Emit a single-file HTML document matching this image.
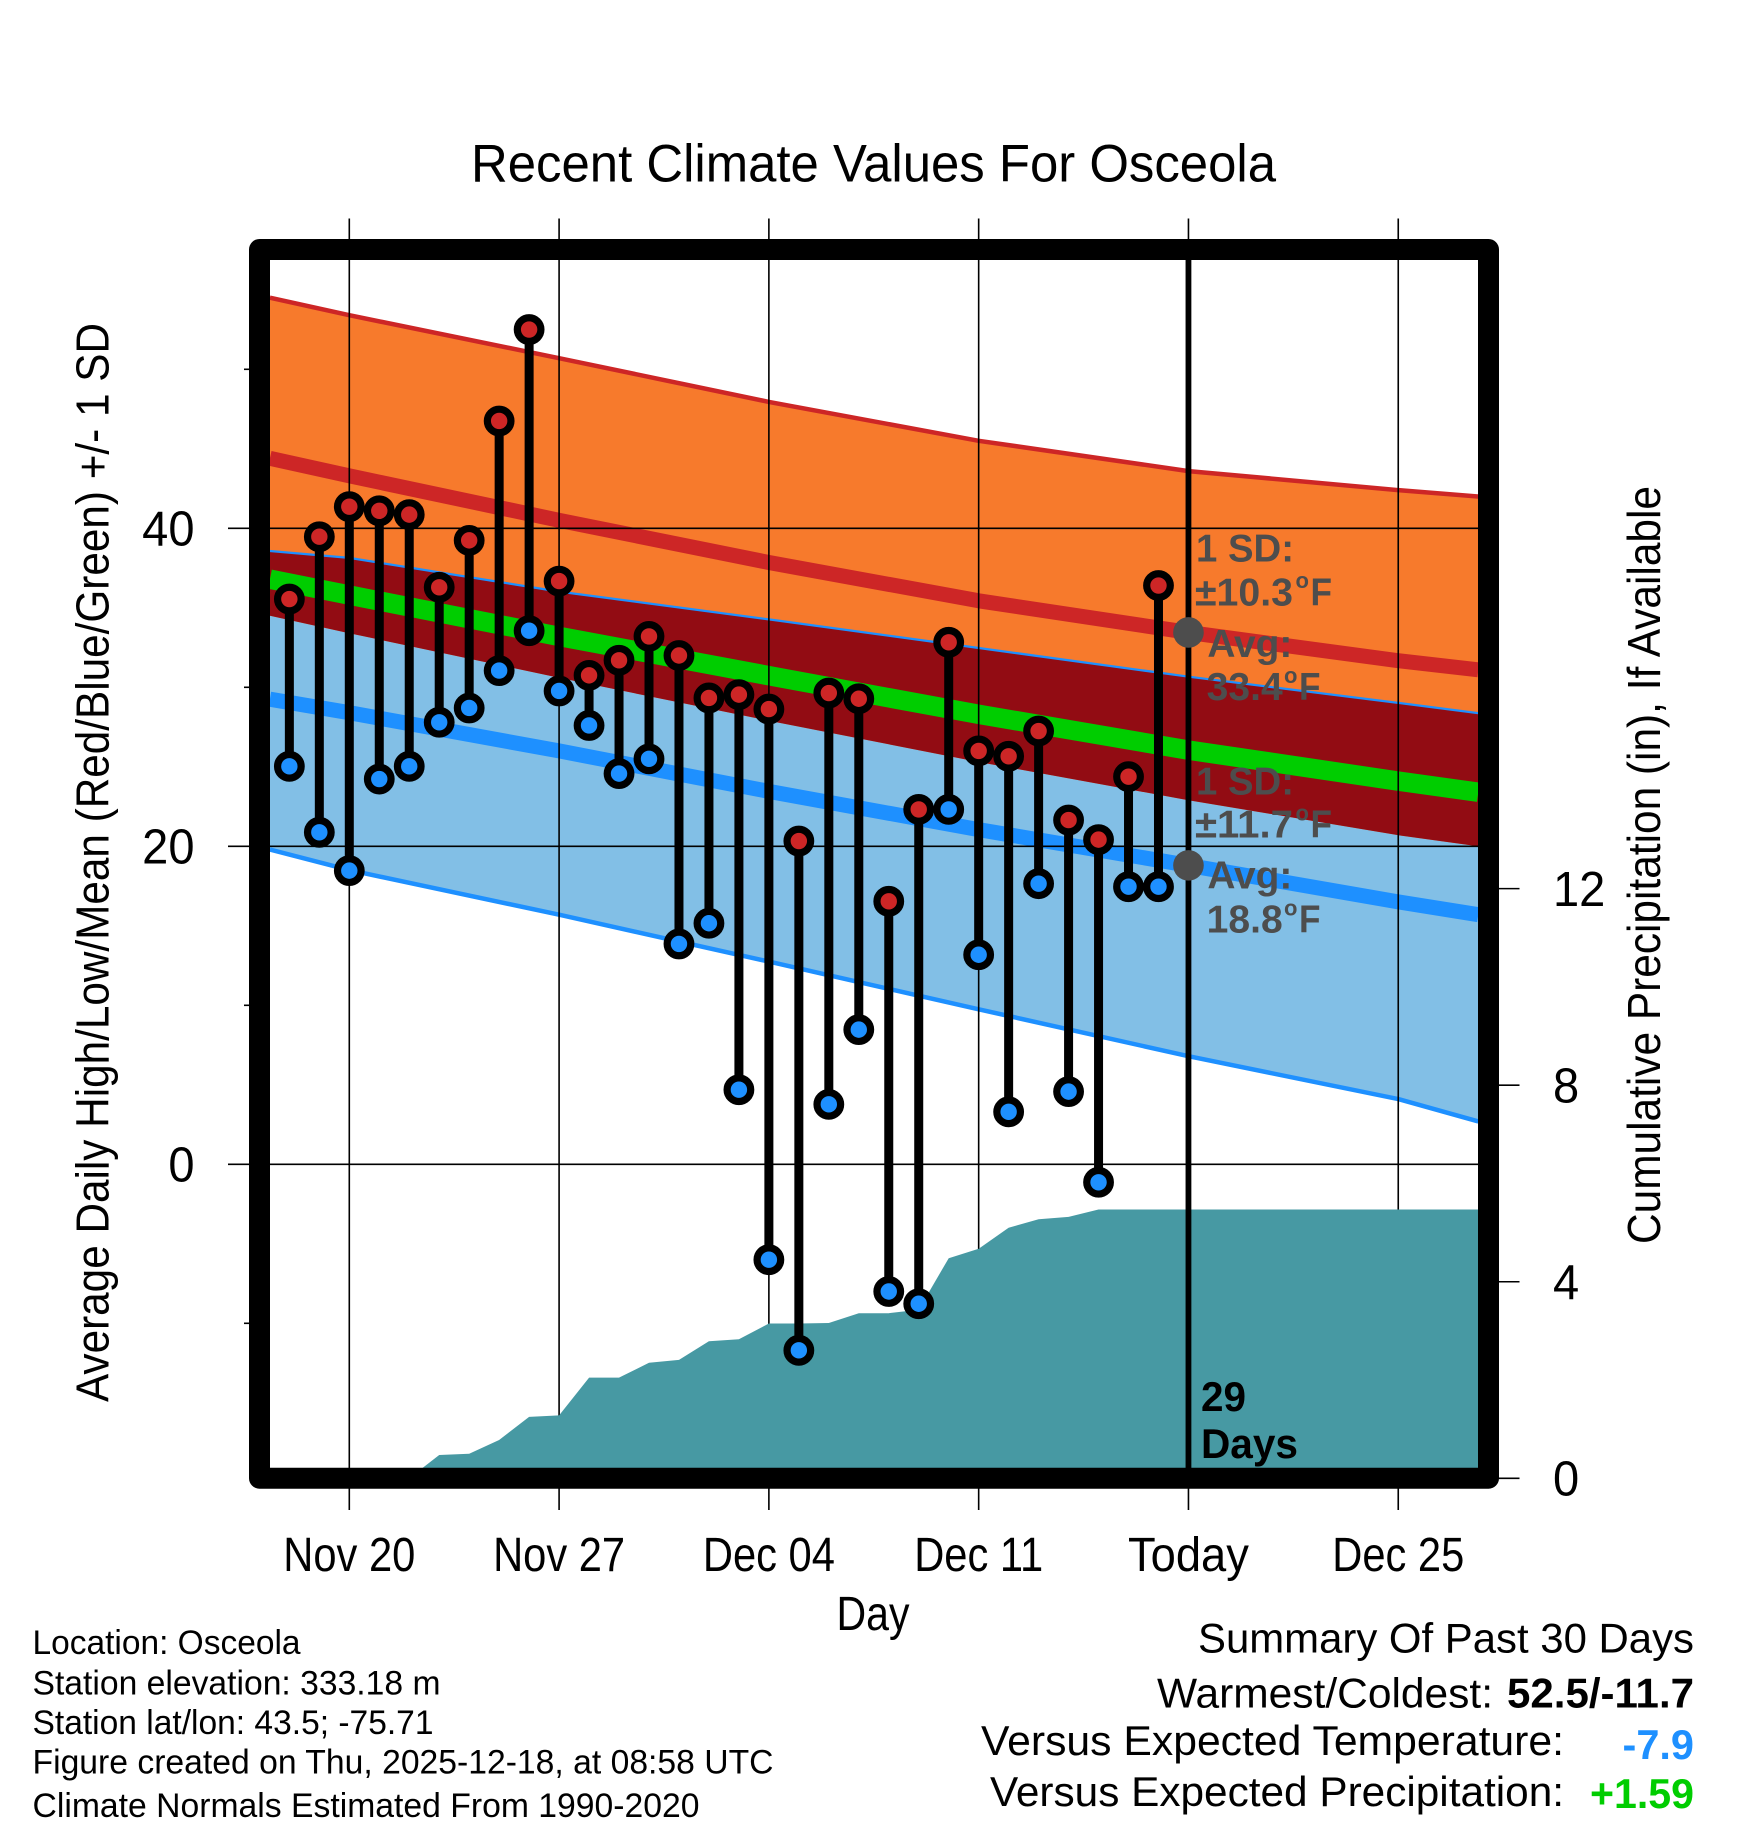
<!DOCTYPE html>
<html lang="en">
<head>
<meta charset="utf-8">
<title>Recent Climate Values For Osceola</title>
<style>
html,body{margin:0;padding:0;background:#fff;width:1748px;height:1828px;overflow:hidden}
svg{display:block}
text{font-family:"Liberation Sans",sans-serif;fill:#000}
.meta{font-size:34.5px}
.sum{font-size:42px}
.note{font-size:39px;font-weight:bold;fill:#4d4d4d}
.sup{font-size:22px;font-weight:bold;fill:#4d4d4d}
.days{font-size:42px;font-weight:bold}
</style>
</head>
<body>
<svg xmlns="http://www.w3.org/2000/svg" width="1748" height="1828" viewBox="0 0 1748 1828">
  <defs>
    <clipPath id="plot-clip"><rect x="270" y="260" width="1208" height="1208"/></clipPath>
  </defs>
  <rect x="0" y="0" width="1748" height="1828" fill="#fff"/>

  <g id="ticks"></g>
  <g clip-path="url(#plot-clip)">
    <g id="bands"></g>
    <g id="grid"></g>
    <g id="precip"></g>
    <g id="temps"></g>
    <g id="today"></g>
  </g>

  <g>
    <text class="note" x="1196" y="561.6" textLength="98" lengthAdjust="spacingAndGlyphs">1 SD:</text>
    <text class="note" x="1195" y="605.4" textLength="98" lengthAdjust="spacingAndGlyphs">±10.3</text>
    <text class="sup" x="1295.5" y="588">o</text>
    <text class="note" x="1310.5" y="605.4" textLength="21.5" lengthAdjust="spacingAndGlyphs">F</text>
    <text class="note" x="1207.4" y="657" textLength="85" lengthAdjust="spacingAndGlyphs">Avg:</text>
    <text class="note" x="1206.7" y="700" textLength="76" lengthAdjust="spacingAndGlyphs">33.4</text>
    <text class="sup" x="1284" y="683">o</text>
    <text class="note" x="1299" y="700" textLength="21.5" lengthAdjust="spacingAndGlyphs">F</text>
  </g>
  <g>
    <text class="note" x="1196" y="794.6" textLength="98" lengthAdjust="spacingAndGlyphs">1 SD:</text>
    <text class="note" x="1195" y="837.7" textLength="98" lengthAdjust="spacingAndGlyphs">±11.7</text>
    <text class="sup" x="1295.5" y="820.5">o</text>
    <text class="note" x="1310.5" y="837.7" textLength="21.5" lengthAdjust="spacingAndGlyphs">F</text>
    <text class="note" x="1207.4" y="888.6" textLength="85" lengthAdjust="spacingAndGlyphs">Avg:</text>
    <text class="note" x="1206.7" y="932.5" textLength="76" lengthAdjust="spacingAndGlyphs">18.8</text>
    <text class="sup" x="1284" y="915.5">o</text>
    <text class="note" x="1299" y="932.5" textLength="21.5" lengthAdjust="spacingAndGlyphs">F</text>
  </g>
  <text class="days" x="1201" y="1411" textLength="45" lengthAdjust="spacingAndGlyphs">29</text>
  <text class="days" x="1201" y="1458" textLength="97" lengthAdjust="spacingAndGlyphs">Days</text>

  <rect x="259.5" y="249.5" width="1229" height="1228.7" fill="none" stroke="#000" stroke-width="21" stroke-linejoin="round"/>

  <g id="tick-labels"></g>

  <text x="471" y="181.7" font-size="53" textLength="805" lengthAdjust="spacingAndGlyphs">Recent Climate Values For Osceola</text>
  <text x="836.5" y="1630" font-size="48" textLength="73" lengthAdjust="spacingAndGlyphs">Day</text>
  <text transform="translate(108.5,1402) rotate(-90)" font-size="46.5" textLength="1079" lengthAdjust="spacingAndGlyphs">Average Daily High/Low/Mean (Red/Blue/Green) +/- 1 SD</text>
  <text transform="translate(1660,1244) rotate(-90)" font-size="46.5" textLength="758" lengthAdjust="spacingAndGlyphs">Cumulative Precipitation (in), If Available</text>

  <g>
    <text class="meta" x="32.5" y="1654" textLength="268" lengthAdjust="spacingAndGlyphs">Location: Osceola</text>
    <text class="meta" x="32.5" y="1694.3" textLength="408" lengthAdjust="spacingAndGlyphs">Station elevation: 333.18 m</text>
    <text class="meta" x="32.5" y="1734" textLength="401" lengthAdjust="spacingAndGlyphs">Station lat/lon: 43.5; -75.71</text>
    <text class="meta" x="32.5" y="1773.3" textLength="741" lengthAdjust="spacingAndGlyphs">Figure created on Thu, 2025-12-18, at 08:58 UTC</text>
    <text class="meta" x="32.5" y="1817" textLength="667" lengthAdjust="spacingAndGlyphs">Climate Normals Estimated From 1990-2020</text>
  </g>
  <g>
    <text class="sum" x="1198" y="1652.3" textLength="496" lengthAdjust="spacingAndGlyphs">Summary Of Past 30 Days</text>
    <text class="sum" x="1157" y="1707.7" textLength="336" lengthAdjust="spacingAndGlyphs">Warmest/Coldest:</text>
    <text class="sum" x="1507" y="1707.7" font-weight="bold" textLength="187" lengthAdjust="spacingAndGlyphs">52.5/-11.7</text>
    <text class="sum" x="981" y="1755" textLength="583" lengthAdjust="spacingAndGlyphs">Versus Expected Temperature:</text>
    <text class="sum" x="1622.5" y="1759" font-weight="bold" style="fill:#1e90ff" textLength="71.5" lengthAdjust="spacingAndGlyphs">-7.9</text>
    <text class="sum" x="990" y="1806" textLength="574" lengthAdjust="spacingAndGlyphs">Versus Expected Precipitation:</text>
    <text class="sum" x="1590" y="1808" font-weight="bold" style="fill:#00cd00" textLength="104" lengthAdjust="spacingAndGlyphs">+1.59</text>
  </g>
</svg>

<script>
// Categories: days relative to Nov 20
const days = [-2,-1,0,1,2,3,4,5,6,7,8,9,10,11,12,13,14,15,16,17,18,19,20,21,22,23,24,25,26,27];
// Daily observed temperatures (deg F)
const dailyHighs = [35.55,39.47,41.36,41.1,40.86,36.29,39.24,46.75,52.5,36.68,30.75,31.7,33.2,32.0,29.33,29.54,28.63,20.33,29.64,29.28,16.54,22.32,32.83,26.0,25.66,27.25,21.65,20.42,24.38,36.4];
const dailyLows = [25.03,20.88,18.47,24.23,25.03,27.8,28.7,31.05,33.56,29.77,27.6,24.57,25.5,13.86,15.16,4.69,-6.0,-11.7,3.77,8.47,-8.0,-8.77,22.32,13.18,3.3,17.65,4.57,-1.13,17.46,17.46];
// Cumulative precipitation (inches)
const cumulativePrecip = [0,0,0,0,0,0.474,0.5,0.78,1.25,1.28,2.05,2.05,2.35,2.41,2.79,2.83,3.15,3.15,3.16,3.36,3.36,3.43,4.48,4.67,5.1,5.27,5.32,5.47,5.47,5.47];
// Climatology curves, sampled at normalDays
const normalDays = [-2.65,0,7,14,21,28,35,37.67];
const highPlusSD = [54.5,53.4,50.7,47.95,45.5,43.6,42.4,42.0];
const highAvg = [44.4,43.3,40.5,37.85,35.44,33.45,31.67,31.1];
const highMinusSD = [34.5,33.4,30.6,27.9,25.3,22.9,20.7,20.0];
const lowPlusSD = [38.5,38.07,35.95,34.2,32.4,30.6,28.95,28.3];
const lowAvg = [29.25,28.4,26.0,23.45,21.05,18.8,16.5,15.7];
const lowMinusSD = [19.8,18.5,15.7,12.75,9.75,6.8,4.1,2.7];
const meanAvg = [36.8,35.8,33.2,30.73,28.3,26.05,24.1,23.4];
// Axes
const xTickDays = [0,7,14,21,28,35];
const xTickLabels = ['Nov 20','Nov 27','Dec 04','Dec 11','Today','Dec 25'];
const todayDay = 28;
const yMajorTicks = [0,20,40];
const yMinorTicks = [-10,10,30,50];
const precipTicks = [0,4,8,12];

const NS = 'http://www.w3.org/2000/svg';
function xAt(d){ return 349.3 + 29.97 * d; }
function yTemp(t){ return 1164.3 - 15.9 * t; }
function yPrecip(p){ return 1478.3 - 49.14 * p; }
function mk(tag, parent, attrs){
  const el = document.createElementNS(NS, tag);
  for (const k in attrs) el.setAttribute(k, attrs[k]);
  parent.appendChild(el);
  return el;
}
function curve(vals){
  return vals.map(function(v,i){ return xAt(normalDays[i]).toFixed(1)+','+yTemp(v).toFixed(1); });
}
function bandPoly(parent, topVals, botVals, fill, name){
  const pts = curve(topVals).concat(curve(botVals).reverse()).join(' ');
  const el = mk('polygon', parent, {points:pts, fill:fill});
  
  
}
function bandLine(parent, vals, stroke, width, name){
  const el = mk('polyline', parent, {points:curve(vals).join(' '), fill:'none', stroke:stroke, 'stroke-width':width, 'stroke-linejoin':'round'});
  
  
}

const bands = document.getElementById('bands');
bandPoly(bands, lowPlusSD, lowMinusSD, '#82bfe6', 'low-sd-band');
bandLine(bands, lowMinusSD, '#1e90ff', 4.5, 'low-minus-sd-line');
bandLine(bands, lowAvg, '#1e90ff', 15, 'low-average-line');
bandPoly(bands, highPlusSD, highMinusSD, '#f77a2c', 'high-sd-band');
bandLine(bands, highPlusSD, '#cd2626', 4.5, 'high-plus-sd-line');
bandLine(bands, highAvg, '#cd2626', 15, 'high-average-line');
bandLine(bands, lowPlusSD, '#1e90ff', 4.5, 'low-plus-sd-line');
bandPoly(bands, lowPlusSD, highMinusSD, '#920c13', 'overlap-band');
bandLine(bands, meanAvg, '#00cd00', 19.5, 'mean-line');

const grid = document.getElementById('grid');
xTickDays.forEach(function(d){
  const el = mk('line', grid, {x1:xAt(d), x2:xAt(d), y1:260, y2:1468, stroke:'#000', 'stroke-width':1.6});
  
  
});
yMajorTicks.forEach(function(t){
  const el = mk('line', grid, {x1:270, x2:1478, y1:yTemp(t), y2:yTemp(t), stroke:'#000', 'stroke-width':1.6});
  
  
});

const ticks = document.getElementById('ticks');
function tickLine(x1,y1,x2,y2,name){
  const el = mk('line', ticks, {x1:x1, y1:y1, x2:x2, y2:y2, stroke:'#000', 'stroke-width':1.6});
  
  
}
xTickDays.forEach(function(d){
  tickLine(xAt(d),218.5,xAt(d),249,'x-tick-top');
  tickLine(xAt(d),1488,xAt(d),1510,'x-tick-bottom');
});
yMajorTicks.forEach(function(t){ tickLine(228,yTemp(t),255,yTemp(t),'y-major-tick'); });
yMinorTicks.forEach(function(t){ tickLine(244,yTemp(t),255,yTemp(t),'y-minor-tick'); });
precipTicks.forEach(function(p){ tickLine(1495,yPrecip(p),1519.5,yPrecip(p),'precip-tick'); });

const precipLayer = document.getElementById('precip');
const precipPts = days.map(function(d,i){ return xAt(d).toFixed(1)+','+yPrecip(cumulativePrecip[i]).toFixed(1); });
const lastPrecip = cumulativePrecip[cumulativePrecip.length-1];
precipPts.push('1490,'+yPrecip(lastPrecip).toFixed(1));
precipPts.push('1490,'+yPrecip(0).toFixed(1));
precipPts.push(xAt(days[0]).toFixed(1)+','+yPrecip(0).toFixed(1));
const precipArea = mk('polygon', precipLayer, {points:precipPts.join(' '), fill:'#4799a3'});



const temps = document.getElementById('temps');
days.forEach(function(d,i){
  const x = xAt(d);
  const stem = mk('line', temps, {x1:x, x2:x, y1:yTemp(dailyHighs[i]), y2:yTemp(dailyLows[i]), stroke:'#000', 'stroke-width':9});
  
  
});
days.forEach(function(d,i){
  const x = xAt(d);
  const hi = mk('circle', temps, {cx:x, cy:yTemp(dailyHighs[i]), r:11.8, fill:'#cd2626', stroke:'#000', 'stroke-width':7.2});
  
  
  const lo = mk('circle', temps, {cx:x, cy:yTemp(dailyLows[i]), r:11.8, fill:'#1e90ff', stroke:'#000', 'stroke-width':7.2});
  
  
});

const todayLayer = document.getElementById('today');
const todayLine = mk('line', todayLayer, {x1:xAt(todayDay), x2:xAt(todayDay), y1:260, y2:1468, stroke:'#000', 'stroke-width':5.8});


const todayIdx = normalDays.indexOf(todayDay);
[highAvg, lowAvg].forEach(function(series){
  const dot = mk('circle', todayLayer, {cx:xAt(todayDay), cy:yTemp(series[todayIdx]), r:15.3, fill:'#4d4d4d'});
  
  
});

const labels = document.getElementById('tick-labels');
function label(txt, x, y, anchor, sx, size, name){
  const el = mk('text', labels, {transform:'translate('+x+','+y+') scale('+sx+',1)', 'text-anchor':anchor, 'font-size':size});
  el.textContent = txt;
  
  
}
xTickDays.forEach(function(d,i){
  const sx = d === todayDay ? 0.944 : 0.868;
  label(xTickLabels[i], xAt(d), 1571, 'middle', sx, 48, 'x-tick-label');
});
yMajorTicks.forEach(function(t){ label(String(t), 194.5, yTemp(t)+17.2, 'end', 0.96, 49, 'y-tick-label'); });
precipTicks.forEach(function(p){ label(String(p), 1553, yPrecip(p)+17.2, 'start', 0.96, 49, 'precip-tick-label'); });
</script>
</body>
</html>
